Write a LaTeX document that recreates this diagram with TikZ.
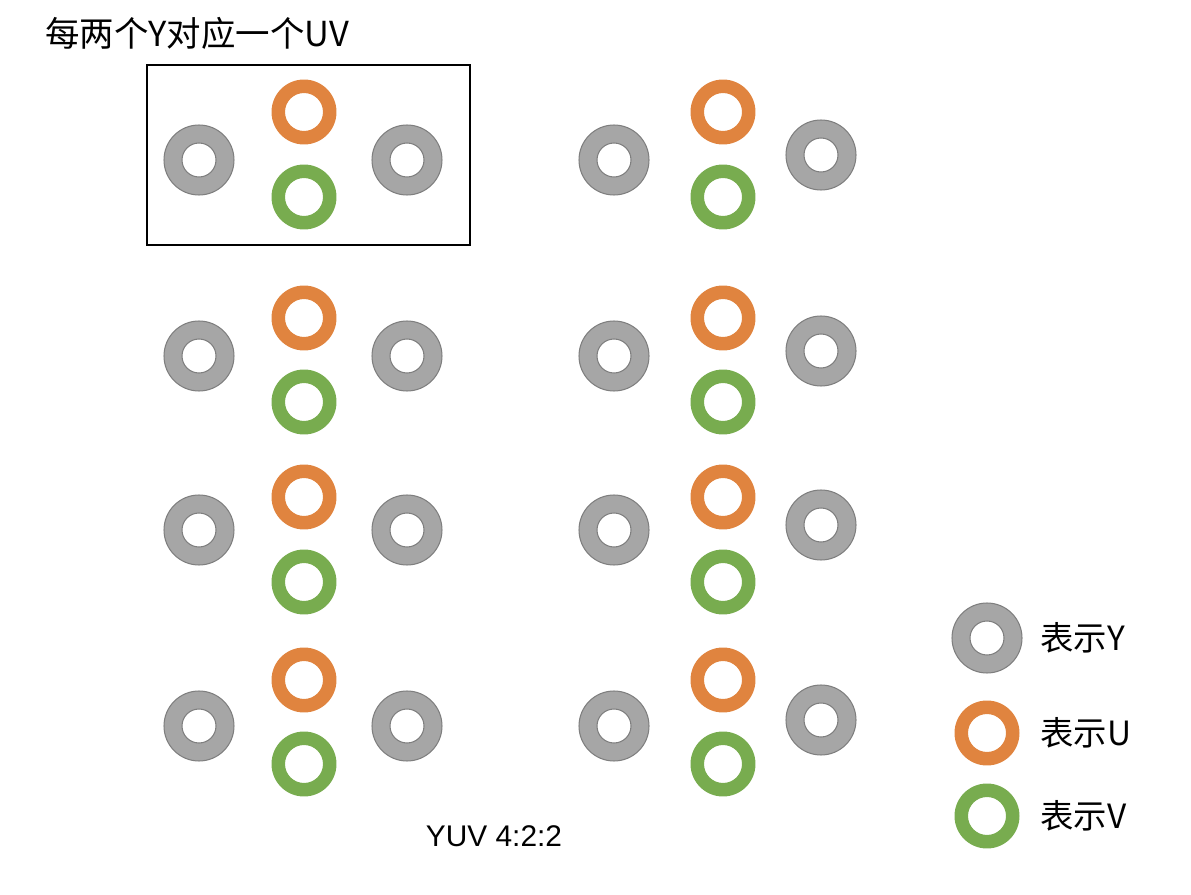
\documentclass[tikz,border=0pt]{standalone}
\usepackage{fontspec}
\setmainfont{Liberation Sans}
\newfontfamily\cjk{Noto Sans CJK SC}
\definecolor{ygray}{HTML}{A6A6A6}
\definecolor{yedge}{HTML}{7F7F7F}
\definecolor{uorange}{HTML}{E0843F}
\definecolor{vgreen}{HTML}{78AC4F}
\tikzset{
  pics/ringY/.style={code={\draw[draw=yedge, line width=0.6pt, fill=ygray, even odd rule] (0,0) circle (0.70cm) (0,0) circle (0.34cm);}},
  pics/ringU/.style={code={\fill[uorange, even odd rule] (0,0) circle (0.65cm) (0,0) circle (0.38cm);}},
  pics/ringV/.style={code={\fill[vgreen, even odd rule] (0,0) circle (0.65cm) (0,0) circle (0.38cm);}},
  cjklabel/.style={font=\cjk\fontsize{19}{23}\selectfont, inner sep=0pt}
}
\begin{document}
\begin{tikzpicture}[x=0.02cm, y=-0.02cm]
  \useasboundingbox (0,0) rectangle (1191,895);

  % Titel und Rahmen
  \node[cjklabel, font=\cjk\fontsize{19.6}{23}\selectfont, anchor=west] (title) at (45,33) {每两个Y对应一个UV};
  \draw[line width=0.8pt] (147,65) rectangle (470,245);

  % Raster der Abtastwerte
  \foreach \yl/\yr/\u/\v in {160/155/112/197, 356/351/318/402, 530/525/497/582, 726/720/680/764} {
    \pic at (199,\yl) {ringY};
    \pic at (407,\yl) {ringY};
    \pic at (304,\u) {ringU};
    \pic at (304,\v) {ringV};
    \pic at (614,\yl) {ringY};
    \pic at (821,\yr) {ringY};
    \pic at (723,\u) {ringU};
    \pic at (723,\v) {ringV};
  }

  % Legende
  \pic at (987,638) {ringY};
  \pic at (987,733) {ringU};
  \pic at (987,816) {ringV};
  \node[cjklabel, anchor=west] (legY) at (1040,638) {表示Y};
  \node[cjklabel, anchor=west] (legU) at (1040,733) {表示U};
  \node[cjklabel, anchor=west] (legV) at (1040,816) {表示V};

  \node[font=\fontsize{17}{20}\selectfont, inner sep=0pt] (caption) at (494,836) {YUV 4:2:2};
\end{tikzpicture}
\end{document}
